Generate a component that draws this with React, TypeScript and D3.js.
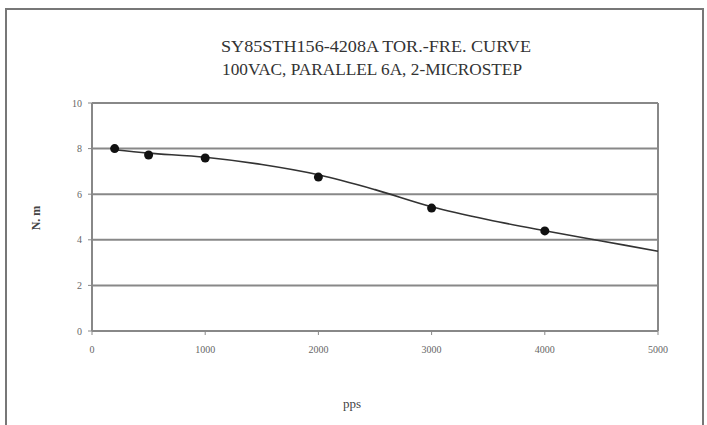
import React from "react";
import * as d3 from "d3";

const titleLines = ["SY85STH156-4208A TOR.-FRE.  CURVE", "100VAC, PARALLEL 6A, 2-MICROSTEP"];
const xTicks = [0, 1000, 2000, 3000, 4000, 5000];
const yTicks = [0, 2, 4, 6, 8, 10];
const pointSpeed = [200, 500, 1000, 2000, 3000, 4000];
const pointTorque = [8.0, 7.72, 7.59, 6.75, 5.39, 4.39];
const curveSpeed = [200, 500, 1000, 1500, 2000, 2500, 3000, 3500, 4000, 4500, 5000];
const curveTorque = [7.95, 7.8, 7.62, 7.3, 6.85, 6.2, 5.45, 4.88, 4.4, 3.95, 3.5];
const xLabel = "pps";
const yLabel = "N. m";

export default function App() {
  const W = 707, H = 425;
  const left = 92, right = 658, top = 103, bottom = 331;
  const x = d3.scaleLinear().domain([0, 5000]).range([left, right]);
  const y = d3.scaleLinear().domain([0, 10]).range([bottom, top]);
  const line = d3
    .line<number>()
    .x((_, i) => x(curveSpeed[i]))
    .y((d) => y(d))
    .curve(d3.curveCatmullRom.alpha(0.5));
  const font = "'Liberation Serif', 'Times New Roman', serif";
  const titleLens = [310, 300];
  const titleCx = [376, 372];
  return (
    <svg width={W} height={H} style={{ position: "absolute", left: 0, top: 0, background: "#fff" }} fontFamily={font}>
      <rect x={0} y={0} width={W} height={H} fill="#fff" />
      <rect x={6} y={9} width={697} height={430} fill="none" stroke="#777" strokeWidth={2} />
      {titleLines.map((t, i) => (
        <text
          key={i}
          x={titleCx[i]}
          y={52 + i * 23}
          textAnchor="middle"
          fontSize={17}
          fill="#333"
          textLength={titleLens[i]}
          lengthAdjust="spacingAndGlyphs"
        >
          {t}
        </text>
      ))}
      {yTicks.map((t) => (
        <g key={t}>
          <line x1={left} x2={right} y1={y(t)} y2={y(t)} stroke="#888" strokeWidth={2} />
          <line x1={left - 4} x2={left} y1={y(t)} y2={y(t)} stroke="#888" strokeWidth={1} />
          <text x={left - 10} y={y(t) + 3.5} textAnchor="end" fontSize={10} fill="#666">
            {t}
          </text>
        </g>
      ))}
      <line x1={left} x2={left} y1={top} y2={bottom} stroke="#888" strokeWidth={2} />
      <line x1={right} x2={right} y1={top} y2={bottom} stroke="#888" strokeWidth={2} />
      {xTicks.map((t) => (
        <g key={t}>
          <line x1={x(t)} x2={x(t)} y1={bottom} y2={bottom + 4} stroke="#888" strokeWidth={1} />
          <text x={x(t)} y={bottom + 22} textAnchor="middle" fontSize={10} fill="#666">
            {t}
          </text>
        </g>
      ))}
      <path d={line(curveTorque) || ""} fill="none" stroke="#333" strokeWidth={1.6} />
      {pointSpeed.map((s, i) => (
        <circle key={s} cx={x(s)} cy={y(pointTorque[i])} r={4.5} fill="#111" />
      ))}
      <text x={352} y={408} textAnchor="middle" fontSize={13} fill="#444">
        {xLabel}
      </text>
      <text transform={`translate(40,218) rotate(-90)`} textAnchor="middle" fontSize={12} fontWeight="bold" fill="#444">
        {yLabel}
      </text>
    </svg>
  );
}
